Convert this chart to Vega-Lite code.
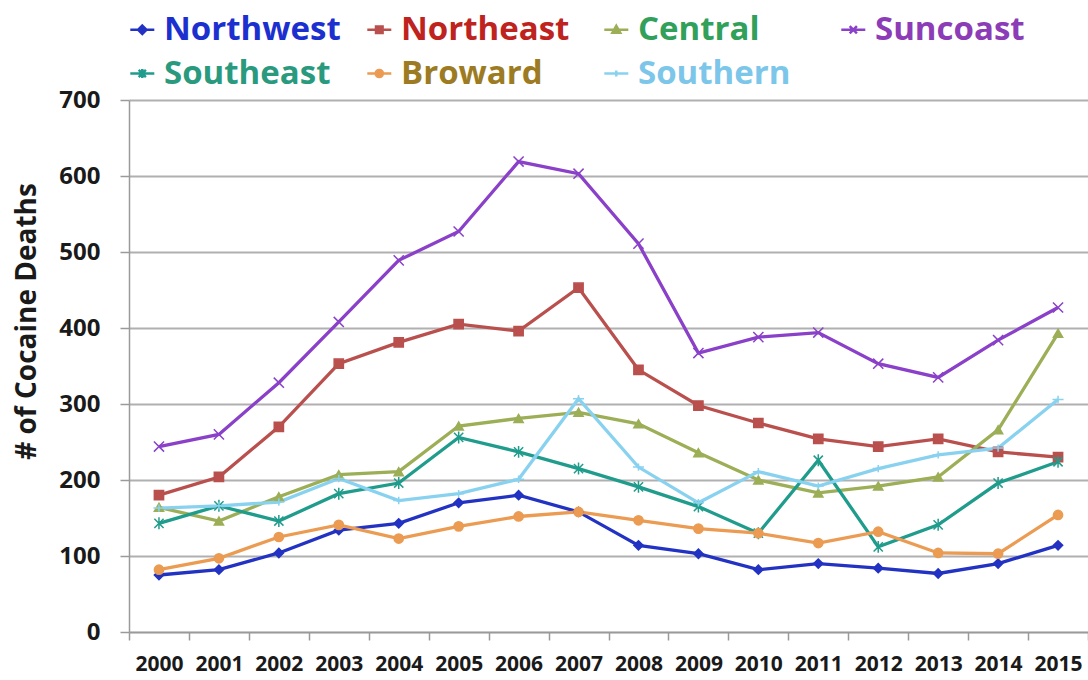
{
  "$schema": "https://vega.github.io/schema/vega-lite/v6.json",
  "autosize": {"type": "none"},
  "padding": {"left": 129, "top": 100, "right": 0, "bottom": 48},
  "width": 959,
  "height": 532,
  "background": "white",
  "data": {
    "values": [
      {"region": "Northwest", "year": "2000", "deaths": 75}, {"region": "Northwest", "year": "2001", "deaths": 82}, {"region": "Northwest", "year": "2002", "deaths": 104}, {"region": "Northwest", "year": "2003", "deaths": 134}, {"region": "Northwest", "year": "2004", "deaths": 143}, {"region": "Northwest", "year": "2005", "deaths": 170}, {"region": "Northwest", "year": "2006", "deaths": 180}, {"region": "Northwest", "year": "2007", "deaths": 158}, {"region": "Northwest", "year": "2008", "deaths": 114}, {"region": "Northwest", "year": "2009", "deaths": 103}, {"region": "Northwest", "year": "2010", "deaths": 82}, {"region": "Northwest", "year": "2011", "deaths": 90}, {"region": "Northwest", "year": "2012", "deaths": 84}, {"region": "Northwest", "year": "2013", "deaths": 77}, {"region": "Northwest", "year": "2014", "deaths": 90}, {"region": "Northwest", "year": "2015", "deaths": 114},
      {"region": "Northeast", "year": "2000", "deaths": 180}, {"region": "Northeast", "year": "2001", "deaths": 204}, {"region": "Northeast", "year": "2002", "deaths": 270}, {"region": "Northeast", "year": "2003", "deaths": 353}, {"region": "Northeast", "year": "2004", "deaths": 381}, {"region": "Northeast", "year": "2005", "deaths": 405}, {"region": "Northeast", "year": "2006", "deaths": 396}, {"region": "Northeast", "year": "2007", "deaths": 453}, {"region": "Northeast", "year": "2008", "deaths": 345}, {"region": "Northeast", "year": "2009", "deaths": 298}, {"region": "Northeast", "year": "2010", "deaths": 275}, {"region": "Northeast", "year": "2011", "deaths": 254}, {"region": "Northeast", "year": "2012", "deaths": 244}, {"region": "Northeast", "year": "2013", "deaths": 254}, {"region": "Northeast", "year": "2014", "deaths": 237}, {"region": "Northeast", "year": "2015", "deaths": 230},
      {"region": "Central", "year": "2000", "deaths": 164}, {"region": "Central", "year": "2001", "deaths": 146}, {"region": "Central", "year": "2002", "deaths": 178}, {"region": "Central", "year": "2003", "deaths": 207}, {"region": "Central", "year": "2004", "deaths": 211}, {"region": "Central", "year": "2005", "deaths": 271}, {"region": "Central", "year": "2006", "deaths": 281}, {"region": "Central", "year": "2007", "deaths": 289}, {"region": "Central", "year": "2008", "deaths": 274}, {"region": "Central", "year": "2009", "deaths": 236}, {"region": "Central", "year": "2010", "deaths": 200}, {"region": "Central", "year": "2011", "deaths": 183}, {"region": "Central", "year": "2012", "deaths": 192}, {"region": "Central", "year": "2013", "deaths": 204}, {"region": "Central", "year": "2014", "deaths": 266}, {"region": "Central", "year": "2015", "deaths": 393},
      {"region": "Suncoast", "year": "2000", "deaths": 244}, {"region": "Suncoast", "year": "2001", "deaths": 260}, {"region": "Suncoast", "year": "2002", "deaths": 328}, {"region": "Suncoast", "year": "2003", "deaths": 408}, {"region": "Suncoast", "year": "2004", "deaths": 489}, {"region": "Suncoast", "year": "2005", "deaths": 527}, {"region": "Suncoast", "year": "2006", "deaths": 619}, {"region": "Suncoast", "year": "2007", "deaths": 603}, {"region": "Suncoast", "year": "2008", "deaths": 511}, {"region": "Suncoast", "year": "2009", "deaths": 367}, {"region": "Suncoast", "year": "2010", "deaths": 388}, {"region": "Suncoast", "year": "2011", "deaths": 394}, {"region": "Suncoast", "year": "2012", "deaths": 353}, {"region": "Suncoast", "year": "2013", "deaths": 335}, {"region": "Suncoast", "year": "2014", "deaths": 384}, {"region": "Suncoast", "year": "2015", "deaths": 427},
      {"region": "Southeast", "year": "2000", "deaths": 143}, {"region": "Southeast", "year": "2001", "deaths": 166}, {"region": "Southeast", "year": "2002", "deaths": 146}, {"region": "Southeast", "year": "2003", "deaths": 182}, {"region": "Southeast", "year": "2004", "deaths": 196}, {"region": "Southeast", "year": "2005", "deaths": 256}, {"region": "Southeast", "year": "2006", "deaths": 237}, {"region": "Southeast", "year": "2007", "deaths": 215}, {"region": "Southeast", "year": "2008", "deaths": 191}, {"region": "Southeast", "year": "2009", "deaths": 165}, {"region": "Southeast", "year": "2010", "deaths": 130}, {"region": "Southeast", "year": "2011", "deaths": 226}, {"region": "Southeast", "year": "2012", "deaths": 112}, {"region": "Southeast", "year": "2013", "deaths": 141}, {"region": "Southeast", "year": "2014", "deaths": 196}, {"region": "Southeast", "year": "2015", "deaths": 224},
      {"region": "Broward", "year": "2000", "deaths": 82}, {"region": "Broward", "year": "2001", "deaths": 97}, {"region": "Broward", "year": "2002", "deaths": 125}, {"region": "Broward", "year": "2003", "deaths": 141}, {"region": "Broward", "year": "2004", "deaths": 123}, {"region": "Broward", "year": "2005", "deaths": 139}, {"region": "Broward", "year": "2006", "deaths": 152}, {"region": "Broward", "year": "2007", "deaths": 158}, {"region": "Broward", "year": "2008", "deaths": 147}, {"region": "Broward", "year": "2009", "deaths": 136}, {"region": "Broward", "year": "2010", "deaths": 130}, {"region": "Broward", "year": "2011", "deaths": 117}, {"region": "Broward", "year": "2012", "deaths": 132}, {"region": "Broward", "year": "2013", "deaths": 104}, {"region": "Broward", "year": "2014", "deaths": 103}, {"region": "Broward", "year": "2015", "deaths": 154},
      {"region": "Southern", "year": "2000", "deaths": 163}, {"region": "Southern", "year": "2001", "deaths": 166}, {"region": "Southern", "year": "2002", "deaths": 171}, {"region": "Southern", "year": "2003", "deaths": 202}, {"region": "Southern", "year": "2004", "deaths": 173}, {"region": "Southern", "year": "2005", "deaths": 182}, {"region": "Southern", "year": "2006", "deaths": 201}, {"region": "Southern", "year": "2007", "deaths": 307}, {"region": "Southern", "year": "2008", "deaths": 217}, {"region": "Southern", "year": "2009", "deaths": 170}, {"region": "Southern", "year": "2010", "deaths": 211}, {"region": "Southern", "year": "2011", "deaths": 192}, {"region": "Southern", "year": "2012", "deaths": 215}, {"region": "Southern", "year": "2013", "deaths": 233}, {"region": "Southern", "year": "2014", "deaths": 242}, {"region": "Southern", "year": "2015", "deaths": 306}
    ]
  },
  "encoding": {
    "x": {
      "field": "year",
      "type": "ordinal",
      "bandPosition": 0.5,
      "scale": {"type": "band", "paddingInner": 0, "paddingOuter": 0},
      "axis": {
        "title": null,
        "labelAngle": 0,
        "tickBand": "extent",
        "grid": false,
        "domainColor": "#9a9a9a",
        "domainWidth": 1.5,
        "tickColor": "#9a9a9a",
        "tickWidth": 1.5,
        "tickSize": 8,
        "labelPadding": 13,
        "labelFont": "Open Sans",
        "labelFontWeight": "bold",
        "labelFontSize": 21,
        "labelColor": "#1a1a1a"
      }
    },
    "y": {
      "field": "deaths",
      "type": "quantitative",
      "scale": {"domain": [0, 700], "nice": false},
      "axis": {
        "title": "# of Cocaine Deaths",
        "values": [0, 100, 200, 300, 400, 500, 600, 700],
        "grid": true,
        "gridColor": "#b0b0b0",
        "gridWidth": 2,
        "domainColor": "#9a9a9a",
        "domainWidth": 1.5,
        "tickColor": "#9a9a9a",
        "tickWidth": 1.5,
        "tickSize": 9,
        "labelPadding": 20,
        "labelFont": "Open Sans",
        "labelFontWeight": "bold",
        "labelFontSize": 24,
        "labelColor": "#1a1a1a",
        "titleFont": "Open Sans",
        "titleFontWeight": "bold",
        "titleFontSize": 28,
        "titleColor": "#1a1a1a",
        "titleAngle": -90,
        "titleX": -102,
        "titleY": 221,
        "titleAlign": "center",
        "titleBaseline": "middle"
      }
    }
  },
  "layer": [
    {
      "mark": {"type": "line", "strokeWidth": 3.3},
      "encoding": {
        "color": {
          "field": "region",
          "type": "nominal",
          "scale": {
            "domain": ["Northwest", "Northeast", "Central", "Suncoast", "Southeast", "Broward", "Southern"],
            "range": ["#2232c2", "#b9504d", "#9cae56", "#8a40c8", "#1f9c8c", "#eb9b52", "#88d2f0"]
          }
        }
      }
    },
    {
      "mark": {"type": "point", "filled": true, "size": 85, "strokeWidth": 1.5, "opacity": 1},
      "encoding": {
        "color": {
          "field": "region",
          "type": "nominal",
          "scale": {
            "domain": ["Northwest", "Northeast", "Central", "Suncoast", "Southeast", "Broward", "Southern"],
            "range": ["#2232c2", "#b9504d", "#9cae56", "#8a40c8", "#1f9c8c", "#eb9b52", "#88d2f0"]
          },
          "legend": {
            "title": null,
            "orient": "none",
            "legendX": -11,
            "legendY": -87,
            "direction": "horizontal",
            "columns": 4,
            "gridAlign": "all",
            "columnPadding": 14,
            "rowPadding": 10,
            "symbolSize": 144,
            "symbolStrokeWidth": 2.5,
            "symbolType": {"expr": "datum.value === 'Northwest' ? 'M-0.7,0L3.3,0M1.3,-0.7L2,0L1.3,0.7L0.6,0Z' : datum.value === 'Northeast' ? 'M-0.7,0L3.3,0M0.75,-0.55L1.85,-0.55L1.85,0.55L0.75,0.55Z' : datum.value === 'Central' ? 'M-0.7,0L3.3,0M1.3,-0.65L1.95,0.5L0.65,0.5Z' : datum.value === 'Suncoast' ? 'M-0.7,0L3.3,0M0.7,-0.6L1.9,0.6M0.7,0.6L1.9,-0.6' : datum.value === 'Southeast' ? 'M-0.7,0L3.3,0M0.7,-0.6L1.9,0.6M0.7,0.6L1.9,-0.6M1.3,-0.75L1.3,0.75' : datum.value === 'Broward' ? 'M-0.7,0L3.3,0M1.9,0A0.6,0.6 0 1,1 0.7,0A0.6,0.6 0 1,1 1.9,0Z' : 'M-0.7,0L3.3,0M1.3,-0.5L1.3,0.5'"},
            "labelOffset": 13,
            "labelFont": "Open Sans",
            "labelFontWeight": "bold",
            "labelFontSize": 33,
            "labelLimit": 300,
            "encoding": {
              "labels": {
                "fill": {"value": {"expr": "datum.value === 'Northwest' ? '#1c30cf' : datum.value === 'Northeast' ? '#bf2320' : datum.value === 'Central' ? '#31a05a' : datum.value === 'Suncoast' ? '#8c3cb6' : datum.value === 'Southeast' ? '#2a9a7e' : datum.value === 'Broward' ? '#9c7b22' : '#7cc6ea'"}}
              },
              "symbols": {
                "strokeWidth": {"value": 2.5},
                "opacity": {"value": 1}
              }
            }
          }
        },
        "stroke": {
          "field": "region",
          "type": "nominal",
          "scale": {
            "domain": ["Southern", "Northwest", "Northeast", "Central", "Suncoast", "Southeast", "Broward"],
            "range": ["#88d2f0", "#2232c2", "#b9504d", "#9cae56", "#8a40c8", "#1f9c8c", "#eb9b52"]
          },
          "legend": null
        },
        "shape": {
          "field": "region",
          "type": "nominal",
          "scale": {
            "domain": ["Broward", "Southern", "Northwest", "Northeast", "Central", "Suncoast", "Southeast"],
            "range": ["circle", "M-1.2,0L1.2,0M0,-0.8L0,0.8", "diamond", "square", "triangle-up", "M-1.1,-1.1L1.1,1.1M-1.1,1.1L1.1,-1.1", "M-1,-1L1,1M-1,1L1,-1M0,-1.3L0,1.3"]
          },
          "legend": null
        }
      }
    }
  ],
  "config": {
    "view": {"stroke": null},
    "font": "Open Sans"
  }
}
